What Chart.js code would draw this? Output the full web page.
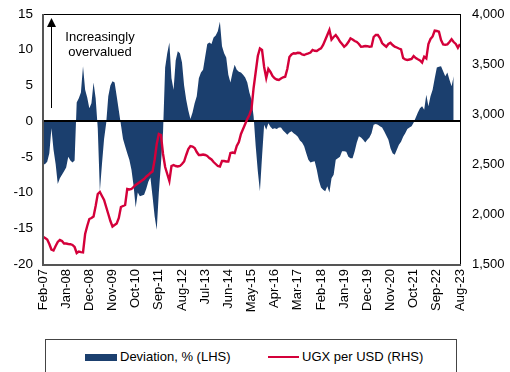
<!DOCTYPE html>
<html>
<head>
<meta charset="utf-8">
<script src="https://cdn.jsdelivr.net/npm/chart.js@4.4.0/dist/chart.umd.min.js"></script>
<style>
  body { margin: 0; background: #fff; font-family: Arial, "Liberation Sans", sans-serif; }
  #wrap { position: relative; width: 510px; height: 372px; overflow: hidden; }
  #data_chart { position: absolute; left: 0; top: 0; }
  .legend { position: absolute; left: 45px; top: 339px; width: 412px; height: 44px;
            border: 1px solid #444; box-sizing: border-box; font-size: 13px; color: #000; }
  .legend span { position: absolute; top: 9px; white-space: nowrap; }
  .swatch { position: absolute; top: 14px; width: 32px; height: 7px; background: #1B3F6E; }
  .redline { position: absolute; top: 16px; width: 31px; height: 2px; background: #D4003A; }
</style>
</head>
<body>
<div id="wrap">
  <canvas id="data_chart" width="510" height="324"></canvas>
  <div class="legend">
    <div class="swatch" style="left:39px"></div><span style="left:74px">Deviation, % (LHS)</span>
    <div class="redline" style="left:222px"></div><span style="left:256px">UGX per USD (RHS)</span>
  </div>
</div>
<script>
// monthly, Feb-07 .. Aug-23
const monthNames = ['Jan','Feb','Mar','Apr','May','Jun','Jul','Aug','Sep','Oct','Nov','Dec'];
const tickLabels = ['Feb-07','Jan-08','Dec-08','Nov-09','Oct-10','Sep-11','Aug-12','Jul-13','Jun-14',
  'May-15','Apr-16','Mar-17','Feb-18','Jan-19','Dec-19','Nov-20','Oct-21','Sep-22','Aug-23'];

// deviation from fair value, % (left axis)
const deviation = [
  -6.1, -6.0, -5.7, -4.5, -1.0, -4.0, -6.0, -8.8, -8.0, -7.5, -7.0,          // 2007
  -6.5, -5.0, -5.5, -5.8, -5.5, 2.6, 3.2, 4.0, 7.7, 4.4, 3.3, 1.8,           // 2008
  2.5, 5.4, 3.2, -1.0, -9.8, -6.0, -2.5, -0.3, 3.5, 5.0, 5.6, 5.4,           // 2009
  3.5, 1.5, -0.5, -2.5, -3.5, -4.5, -5.4, -6.8, -9.0, -12.1, -10.0, -10.5,   // 2010
  -10.4, -10.3, -9.5, -8.5, -7.9, -10.5, -13.3, -15.2, -10.0, -6.0, -1.5, 7.5, // 2011
  9.5, 11.0, 6.0, 4.4, 8.5, 9.8, 9.5, 8.2, 5.0, 3.0, 1.5, 0.3,               // 2012
  1.2, 2.5, 3.5, 6.0, 6.8, 7.2, 9.0, 10.8, 11.0, 10.8, 11.7, 12.0,           // 2013
  12.6, 13.9, 10.5, 9.5, 8.9, 6.5, 5.4, 6.8, 7.9, 7.2, 6.9, 6.8,             // 2014
  6.5, 6.1, 5.4, 4.0, 3.0, 0.7, -3.5, -7.0, -9.8, -5.0, -0.5, -1.2,          // 2015
  -0.3, -0.8, -1.1, -1.0, -1.1, -0.9, -0.9, -1.3, -1.6, -1.9, -1.6, -1.4,    // 2016
  -1.7, -1.9, -2.2, -2.7, -3.0, -3.5, -4.5, -5.4, -5.8, -5.7, -5.6, -6.8,    // 2017
  -8.3, -9.3, -9.6, -9.8, -9.1, -10.0, -8.0, -7.5, -5.4, -5.2, -5.0, -4.2,   // 2018
  -4.2, -4.3, -5.0, -5.2, -5.2, -4.2, -3.0, -2.1, -2.3, -2.6, -3.0, -2.6,    // 2019
  -2.3, -1.7, -0.5, -0.4, -0.5, -0.7, -0.9, -1.4, -2.0, -2.6, -3.8, -4.5,    // 2020
  -4.7, -4.0, -3.3, -2.9, -2.2, -1.7, -1.1, -0.9, -0.7, -0.2, 0.5, 1.2,      // 2021
  1.8, 2.1, 1.6, 3.7, 2.1, 3.5, 4.4, 6.0, 7.5, 7.6, 7.7, 7.0,                // 2022
  6.3, 6.8, 5.8, 4.9, 6.3, null, null, null                                  // 2023
];

// UGX per USD (right axis)
const ugxPerUsd = [
  1773, 1760, 1745, 1700, 1645, 1635, 1680, 1720, 1740, 1730, 1705,          // 2007
  1705, 1700, 1698, 1690, 1670, 1610, 1625, 1618, 1615, 1800, 1880, 1950,    // 2008
  1960, 1975, 2080, 2200, 2220, 2180, 2140, 2070, 2000, 1930, 1875, 1890,    // 2009
  1905, 1960, 2070, 2080, 2090, 2250, 2245, 2250, 2270, 2290, 2305, 2320,    // 2010
  2335, 2350, 2373, 2390, 2410, 2425, 2540, 2700, 2800, 2790, 2600, 2470,    // 2011
  2400, 2330, 2480, 2490, 2480, 2475, 2480, 2500, 2525, 2590, 2650, 2680,    // 2012
  2675, 2660, 2620, 2590, 2590, 2595, 2590, 2580, 2560, 2545, 2520, 2500,    // 2013
  2480, 2475, 2530, 2530, 2525, 2525, 2610, 2615, 2610, 2680, 2720, 2800,    // 2014
  2850, 2900, 2950, 2990, 3050, 3260, 3420, 3580, 3655, 3640, 3470, 3360,    // 2015
  3450, 3420, 3380, 3357, 3345, 3340, 3355, 3367, 3373, 3450, 3570, 3595,    // 2016
  3607, 3605, 3612, 3610, 3595, 3590, 3600, 3607, 3615, 3640, 3632, 3630,    // 2017
  3645, 3657, 3690, 3740, 3790, 3840, 3745, 3770, 3790, 3760, 3725, 3700,    // 2018
  3673, 3690, 3720, 3757, 3745, 3730, 3720, 3700, 3673, 3675, 3680, 3678,    // 2019
  3673, 3675, 3770, 3790, 3790, 3760, 3710, 3690, 3673, 3700, 3713, 3690,    // 2020
  3673, 3665, 3655, 3647, 3560, 3545, 3540, 3545, 3550, 3580, 3560, 3547,    // 2021
  3535, 3515, 3573, 3555, 3700, 3750, 3775, 3833, 3830, 3823, 3740, 3695,    // 2022
  3692, 3697, 3720, 3747, 3720, 3700, 3663, 3700                             // 2023
];

const months = [];
for (let i = 0; i < ugxPerUsd.length; i++) {
  const m = (1 + i) % 12, y = 7 + Math.floor((1 + i) / 12);
  months.push(monthNames[m] + '-' + String(y).padStart(2, '0'));
}

const NAVY = '#1B3F6E';
const RED = '#D4003A';
const FONT = 'Arial, "Liberation Sans", sans-serif';

// zero line sits on top of the area, under the red line
const zeroLine = {
  id: 'zeroLine',
  afterDatasetDraw(chart, args) {
    if (args.index !== 0) return;
    const ctx = chart.ctx, a = chart.chartArea;
    const y0 = Math.round(chart.scales.yL.getPixelForValue(0));
    ctx.save();
    ctx.strokeStyle = '#000';
    ctx.lineWidth = 2;
    ctx.beginPath();
    ctx.moveTo(a.left, y0);
    ctx.lineTo(a.right, y0);
    ctx.stroke();
    ctx.restore();
  }
};

// plot frame plus the "overvalued" arrow and note
const frame = {
  id: 'frame',
  afterDatasetsDraw(chart) {
    const ctx = chart.ctx, a = chart.chartArea;
    ctx.save();
    ctx.lineWidth = 1;
    ctx.strokeStyle = '#000';
    ctx.beginPath();
    ctx.moveTo(a.left, a.top + 0.5); ctx.lineTo(a.right, a.top + 0.5);
    ctx.moveTo(a.right + 0.5, a.top); ctx.lineTo(a.right + 0.5, a.bottom);
    ctx.stroke();
    ctx.lineWidth = 2;
    ctx.strokeStyle = '#555';
    ctx.beginPath();
    ctx.moveTo(a.left, a.top); ctx.lineTo(a.left, a.bottom + 1);
    ctx.lineTo(a.right + 1, a.bottom + 1);
    ctx.stroke();

    // arrow
    ctx.strokeStyle = '#000';
    ctx.lineWidth = 1;
    ctx.beginPath();
    ctx.moveTo(51.5, 108); ctx.lineTo(51.5, 26);
    ctx.stroke();
    ctx.fillStyle = '#000';
    ctx.beginPath();
    ctx.moveTo(51.5, 18); ctx.lineTo(47, 27); ctx.lineTo(56, 27);
    ctx.closePath();
    ctx.fill();

    ctx.font = '13px ' + FONT;
    ctx.textAlign = 'center';
    ctx.textBaseline = 'middle';
    ctx.fillText('Increasingly', 100, 37);
    ctx.fillText('overvalued', 100, 52);
    ctx.restore();
  }
};

// fixed axis widths; drop the extra vertical padding Chart.js adds for tick labels
const fixY = w => s => { s.width = w; s.paddingTop = 0; s.paddingBottom = 0; };

new Chart('data_chart', {
  data: {
    labels: months,
    datasets: [{
      type: 'line',
      label: 'Deviation, % (LHS)',
      data: deviation,
      yAxisID: 'yL',
      borderWidth: 0,
      pointRadius: 0,
      backgroundColor: NAVY,
      fill: 'origin',
      order: 1
    }, {
      type: 'line',
      label: 'UGX per USD (RHS)',
      data: ugxPerUsd,
      yAxisID: 'yR',
      borderColor: RED,
      borderWidth: 2.4,
      pointRadius: 0,
      fill: false,
      order: 0
    }]
  },
  options: {
    responsive: false,
    animation: false,
    devicePixelRatio: 1,
    layout: { padding: { top: 14, left: 0, right: 0, bottom: 0 } },
    plugins: { legend: { display: false }, tooltip: { enabled: false } },
    scales: {
      x: {
        grid: { display: false, drawTicks: false },
        border: { display: false },
        ticks: {
          autoSkip: false, maxRotation: 90, minRotation: 90, padding: 5,
          color: '#000', font: { family: FONT, size: 13 },
          callback: (v, i) => tickLabels.includes(months[i]) ? months[i] : ''
        },
        afterFit: s => { s.height = 60; }
      },
      yL: {
        position: 'left', min: -20, max: 15,
        grid: { display: false, drawTicks: false },
        border: { display: false },
        ticks: { stepSize: 5, padding: 10, color: '#000', font: { family: FONT, size: 13.5 } },
        afterFit: fixY(43)
      },
      yR: {
        position: 'right', min: 1500, max: 4000,
        grid: { display: false, drawTicks: false },
        border: { display: false },
        ticks: {
          stepSize: 500, padding: 12, color: '#000', font: { family: FONT, size: 13 },
          callback: v => v.toLocaleString('en-US')
        },
        afterFit: fixY(50)
      }
    }
  },
  plugins: [zeroLine, frame]
});
</script>
</body>
</html>
